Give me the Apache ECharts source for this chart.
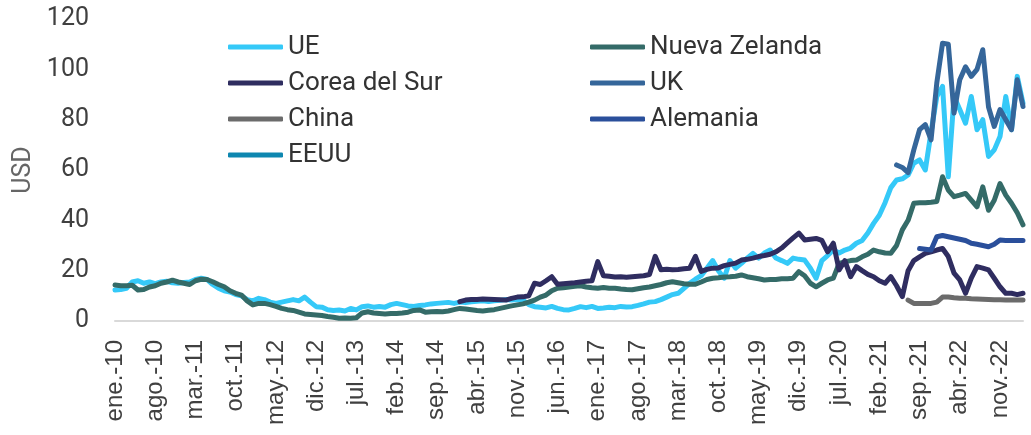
<!DOCTYPE html>
<html>
<head>
<meta charset="utf-8">
<script src="https://cdn.jsdelivr.net/npm/echarts@6/dist/echarts.min.js"></script>
<style>
html,body{margin:0;padding:0;background:#fff;}
#chart{width:1031px;height:435px;}
</style>
</head>
<body>
<div id="chart"></div>
<script>
// Month labels (Spanish), monthly from ene.-10 to mar.-23
const monthNames = ['ene.','feb.','mar.','abr.','may.','jun.','jul.','ago.','sep.','oct.','nov.','dic.'];
const firstYear = 2010, lastYear = 2023, lastMonthIdx = 2;

// Prices in USD (monthly)
const ue = [
  12.3, 12.5, 13, 15.5, 16, 15, 15.5, 14.8, 15.5, 15.8,
  15.2, 15, 15.3, 15.5, 16.5, 17, 16.5, 14.5, 13, 12,
  11.5, 10.5, 10, 8.5, 8, 9, 8.5, 7.5, 7, 7.5,
  8, 8.5, 8, 9.5, 7.5, 5.7, 5.5, 4.5, 4.2, 4.4,
  4, 5, 4.4, 5.7, 6, 5.5, 5.8, 5.5, 6.5, 7,
  6.5, 6, 5.8, 6.2, 6.4, 6.8, 7, 7.2, 7.4, 7,
  7.5, 7.3, 7.6, 7.8, 8, 7.7, 8, 8.2, 8.5, 8.3,
  8.5, 8.3, 6.5, 5.7, 5.5, 5.2, 5.8, 5, 4.5, 4.4,
  5, 5.7, 5.3, 5.8, 5, 5.2, 5.5, 5.3, 5.8, 5.6,
  5.7, 6.2, 6.8, 7.5, 7.7, 8.5, 9.5, 10.5, 11, 13,
  15, 16.6, 18, 21, 24, 20, 17, 24, 21, 22.9,
  25, 26.9, 25, 27, 28.2, 25, 24, 22.9, 25, 24.5,
  24.2, 21, 17, 24, 26, 28.2, 27, 28.2, 29, 30.9,
  32, 35, 38.8, 42, 47, 53, 56, 56.5, 58, 62.7,
  64, 60, 75, 89.2, 93.2, 57.3, 89.2, 84, 78.6, 89.2,
  76, 80, 65.4, 68, 73.3, 89.2, 76, 97.2, 86.5
];
const nuevaZelanda = [
  14.3, 14, 14, 14.2, 12.3, 12.5, 13.5, 14, 15, 15.5,
  16.2, 15.5, 15, 14.5, 16, 16.6, 16.5, 15.6, 14.5, 13.6,
  12, 11, 10.3, 8, 6.4, 7, 7, 6.5, 5.8, 5,
  4.5, 4.2, 3.5, 2.8, 2.6, 2.4, 2.2, 1.8, 1.5, 1.1,
  1.2, 1.1, 1.3, 3.2, 3.7, 3.2, 3, 2.8, 3, 3,
  3.2, 3.5, 4.2, 4.4, 3.5, 3.7, 3.8, 3.7, 4, 4.5,
  5, 4.8, 4.5, 4.2, 4, 4.3, 4.5, 5, 5.5, 6,
  6.4, 6.8, 7.5, 8.3, 9.5, 10.3, 12, 13, 13.2, 13.5,
  13.8, 14, 13.5, 13.2, 13, 13.3, 13, 13, 12.7, 12.5,
  12.4, 12.8, 13.2, 13.5, 14, 14.5, 15.2, 15.6, 15.2, 14.8,
  14.6, 14.6, 15.5, 16.5, 17, 17.2, 17.5, 17.6, 17.8, 18.3,
  17.6, 17.2, 16.8, 16.3, 16.5, 16.5, 16.8, 16.8, 17, 19.6,
  18, 15, 13.6, 15, 16.3, 17, 22.9, 23.5, 24, 24.2,
  25.5, 26.5, 28.2, 27.5, 27, 26.9, 30, 36.2, 40, 46.8,
  47, 47, 47.2, 47.5, 57.3, 52, 49.4, 50, 50.7, 48,
  45.4, 53.3, 44, 48, 54.6, 50, 46.8, 43, 38.2
];
const coreaStart = 'ene.-15';
const coreaDelSur = [
  7.7, 8.3, 8.5, 8.5, 8.7, 8.6, 8.5, 8.4, 8.3, 9,
  9.5, 9.6, 10, 15, 14.5, 16, 17.6, 14.6, 14.8, 15,
  15.2, 15.5, 15.8, 16, 23.6, 18, 17.8, 17.5, 17.6, 17.4,
  17.6, 17.8, 18, 18.5, 25.7, 20.4, 20.6, 20.4, 20.5, 20.8,
  21, 25.7, 19.7, 20.5, 21, 21.1, 22, 22.5, 23, 24.2,
  24.5, 25, 25.6, 26, 26.5, 27.5, 29, 31, 33, 34.9,
  32.2, 32.5, 32.8, 32, 27.5, 30.9, 20.3, 24, 17.6, 21.6,
  20, 18.5, 17.6, 16, 15, 17.6, 14, 9.7, 20, 24,
  25.5, 26.9, 27.5, 28.2, 28.8, 25.6, 19, 16.3, 11, 17,
  21.6, 21, 20.3, 17, 13.6, 11, 11, 10.5, 11
];
const ukStart = 'may.-21';
const uk = [62, 61, 59, 68, 76, 78, 72, 94.6, 110.4, 110, 82.6, 95.9, 101, 97.2, 100, 107.8, 85, 77.3, 84, 80, 76, 95.9, 85.2];
const chinaStart = 'jul.-21';
const china = [8.3, 7, 7, 7, 7, 7.5, 9.5, 9.5, 9.2, 9, 9, 8.8, 8.7, 8.6, 8.5, 8.4, 8.4, 8.3, 8.3, 8.3, 8.3];
const alemaniaStart = 'sep.-21';
const alemania = [28.8, 28.5, 28.2, 33.5, 34, 33.5, 33, 32.5, 32, 30.9, 30.5, 30, 29.5, 30.5, 32.2, 32, 32, 32, 32];
const eeuu = [];

const seriesNames = ['UE','Nueva Zelanda','Corea del Sur','UK','China','Alemania','EEUU'];
const colors = ['#35c9f8','#346b68','#2f2d60','#35669a','#6b6b6b','#2a4f9b','#0e87b0'];
const yTicks = {min: 0, max: 120, interval: 20};

const categories = [];
for (let y = firstYear; y <= lastYear; y++) {
  for (let m = 0; m < 12; m++) {
    if (y === lastYear && m > lastMonthIdx) break;
    categories.push(monthNames[m] + '-' + String(y).slice(2));
  }
}
function pad(startLabel, vals) {
  const idx = startLabel ? categories.indexOf(startLabel) : 0;
  const out = new Array(idx).fill(null);
  return out.concat(vals);
}
const seriesData = [ue, nuevaZelanda, pad(coreaStart, coreaDelSur), pad(ukStart, uk), pad(chinaStart, china), pad(alemaniaStart, alemania), eeuu];

const chart = echarts.init(document.getElementById('chart'), null, {renderer: 'canvas'});
const legendCommon = {
  orient: 'vertical', top: 34, padding: 0, itemWidth: 55, itemHeight: 5, itemGap: 10, icon: 'roundRect',
  textStyle: {fontSize: 26, lineHeight: 26, fontFamily: 'Roboto', color: '#333333'}
};
chart.setOption({
  animation: false,
  color: colors,
  grid: {left: 115, right: 8, top: 19, bottom: 114, containLabel: false},
  legend: [
    Object.assign({left: 228, data: ['UE','Corea del Sur','China','EEUU']}, legendCommon),
    Object.assign({left: 590, data: ['Nueva Zelanda','UK','Alemania']}, legendCommon)
  ],
  xAxis: {
    type: 'category', data: categories, boundaryGap: false,
    axisLine: {lineStyle: {color: '#d9d9d9', width: 2}},
    axisTick: {show: false},
    axisLabel: {rotate: 90, interval: 6, fontSize: 24, fontFamily: 'Liberation Sans', color: '#404040', margin: 19},
    splitLine: {show: false}
  },
  yAxis: {
    type: 'value', min: yTicks.min, max: yTicks.max, interval: yTicks.interval,
    name: 'USD', nameLocation: 'middle', nameGap: 74,
    nameTextStyle: {fontSize: 25, fontFamily: 'Roboto', color: '#666666'},
    axisLine: {show: false}, axisTick: {show: false}, splitLine: {show: false},
    axisLabel: {fontSize: 25, fontFamily: 'Roboto', color: '#404040', margin: 26}
  },
  series: seriesNames.map((n, i) => ({
    name: n, type: 'line', data: seriesData[i], symbol: 'none', showSymbol: false,
    connectNulls: false,
    lineStyle: {width: 5, color: colors[i], cap: 'round', join: 'round'},
    itemStyle: {color: colors[i]}
  }))
});
</script>
</body>
</html>
